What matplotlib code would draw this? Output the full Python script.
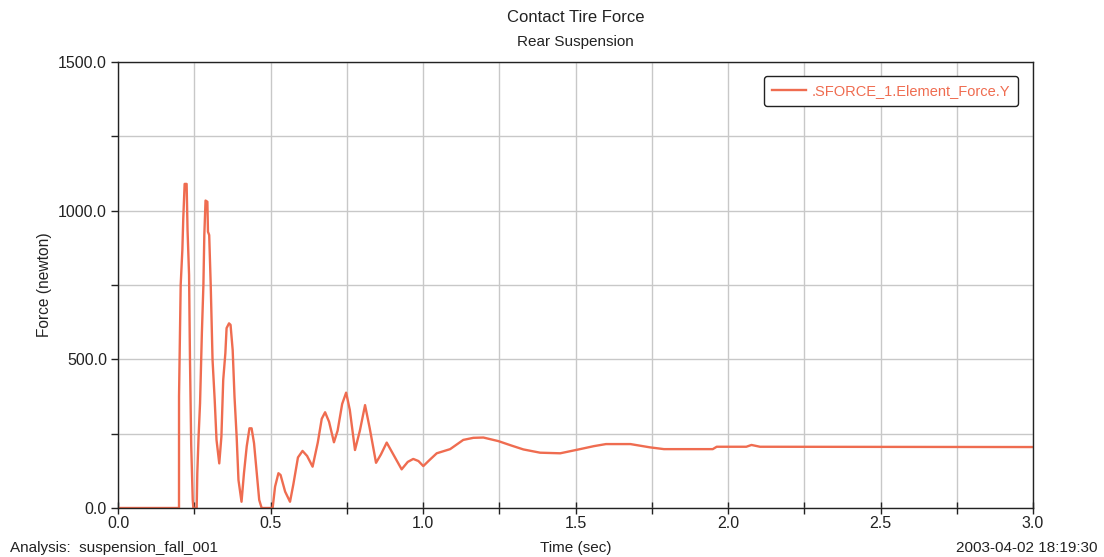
import matplotlib
matplotlib.use("Agg")
import matplotlib.pyplot as plt
from matplotlib.ticker import MultipleLocator, FormatStrFormatter

plt.rcParams['font.family'] = ['Liberation Sans', 'DejaVu Sans']

# Data
time_s = [0.0, 0.2, 0.2001, 0.2055, 0.211, 0.214, 0.2185, 0.225, 0.228, 0.233, 0.236,
          0.240, 0.245, 0.247, 0.258, 0.260, 0.264, 0.269, 0.275, 0.280, 0.283, 0.287,
          0.293, 0.295, 0.299, 0.304, 0.310, 0.317, 0.323, 0.332, 0.339, 0.345, 0.352,
          0.356, 0.364, 0.369, 0.376, 0.382, 0.389, 0.395, 0.405, 0.413, 0.422, 0.431,
          0.438, 0.446, 0.455, 0.463, 0.471, 0.507, 0.515, 0.526, 0.533, 0.548, 0.564,
          0.575, 0.59, 0.605, 0.62, 0.638, 0.655, 0.668, 0.679, 0.692, 0.708, 0.72,
          0.735, 0.748, 0.76, 0.777, 0.793, 0.81, 0.825, 0.846, 0.862, 0.881, 0.90,
          0.93, 0.95, 0.968, 0.985, 1.001, 1.02, 1.045, 1.089, 1.132, 1.165, 1.198,
          1.247, 1.29, 1.329, 1.384, 1.45, 1.515, 1.56, 1.60, 1.68, 1.744, 1.79, 1.95,
          1.963, 2.06, 2.077, 2.105, 3.0]
force_n = [0, 0, 376, 750, 868, 974, 1090, 1090, 935, 784, 498,
           212, 27, 0, 0, 117, 235, 352, 588, 750, 918, 1034,
           1030, 929, 918, 750, 498, 364, 229, 150, 240, 431, 521,
           605, 621, 616, 531, 374, 240, 94, 21, 117, 207, 268,
           268, 218, 117, 27, 0, 0, 72, 117, 111, 55, 21,
           80, 170, 192, 175, 139, 220, 300, 322, 290, 221, 260,
           350, 388, 330, 195, 260, 346, 270, 152, 180, 220, 185,
           130, 155, 165, 158, 141, 160, 184, 198, 229, 236, 237,
           225, 210, 197, 186, 184, 198, 208, 215, 215, 204, 198, 198,
           206, 206, 212, 206, 205]

series_label = ".SFORCE_1.Element_Force.Y"
title = "Contact Tire Force"
subtitle = "Rear Suspension"
x_label = "Time (sec)"
y_label = "Force (newton)"
analysis_text = "Analysis:  suspension_fall_001"
date_text = "2003-04-02 18:19:30"

W, H = 1104, 557
fig = plt.figure(figsize=(W / 100, H / 100), dpi=100)
ax = fig.add_axes([118 / W, 1 - 508 / H, (1033 - 118) / W, (508 - 62) / H])

line_color = '#ef6c50'
ax.plot(time_s, force_n, color=line_color, lw=1.7, label=series_label)

ax.set_xlim(0, 3.0)
ax.set_ylim(0, 1500)
ax.xaxis.set_major_locator(MultipleLocator(0.5))
ax.xaxis.set_minor_locator(MultipleLocator(0.25))
ax.yaxis.set_major_locator(MultipleLocator(500))
ax.yaxis.set_minor_locator(MultipleLocator(250))
ax.xaxis.set_major_formatter(FormatStrFormatter('%.1f'))
ax.yaxis.set_major_formatter(FormatStrFormatter('%.1f'))

ax.grid(True, which='both', color='#c8c8c8', lw=1.0)
ax.set_axisbelow(True)
ax.tick_params(axis='x', which='both', direction='inout', length=8, width=1, color='#222222',
               labelsize=11.5, pad=2, labelcolor='#222222')
ax.tick_params(axis='y', which='both', direction='out', length=5, width=1, color='#222222',
               labelsize=11.5, pad=3, labelcolor='#222222')
for s in ax.spines.values():
    s.set_color('#222222')
    s.set_linewidth(1.0)

fig.text(575.5 / W, 1 - 18 / H, title, ha='center', va='center', fontsize=12, color='#222222')
fig.text(575.5 / W, 1 - 42 / H, subtitle, ha='center', va='center', fontsize=11, color='#222222')
fig.text(45 / W, 1 - 285 / H, y_label, ha='center', va='center', rotation=90, fontsize=11.2, color='#222222')
fig.text(575.5 / W, 1 - 548 / H, x_label, ha='center', va='center', fontsize=11, color='#222222')
fig.text(10 / W, 1 - 548 / H, analysis_text, ha='left', va='center', fontsize=11, color='#222222')
fig.text(1097 / W, 1 - 548 / H, date_text, ha='right', va='center', fontsize=11, color='#222222')

leg = ax.legend(loc='upper right', bbox_to_anchor=(1018 / W, 1 - 76 / H), bbox_transform=fig.transFigure,
                borderaxespad=0, fontsize=10.5, handlelength=2.3, handletextpad=0.4,
                borderpad=0.55, fancybox=True, framealpha=1, edgecolor='#222222')
leg.get_frame().set_linewidth(1.0)
for t in leg.get_texts():
    t.set_color(line_color)

fig.savefig('out.png', dpi=100)
